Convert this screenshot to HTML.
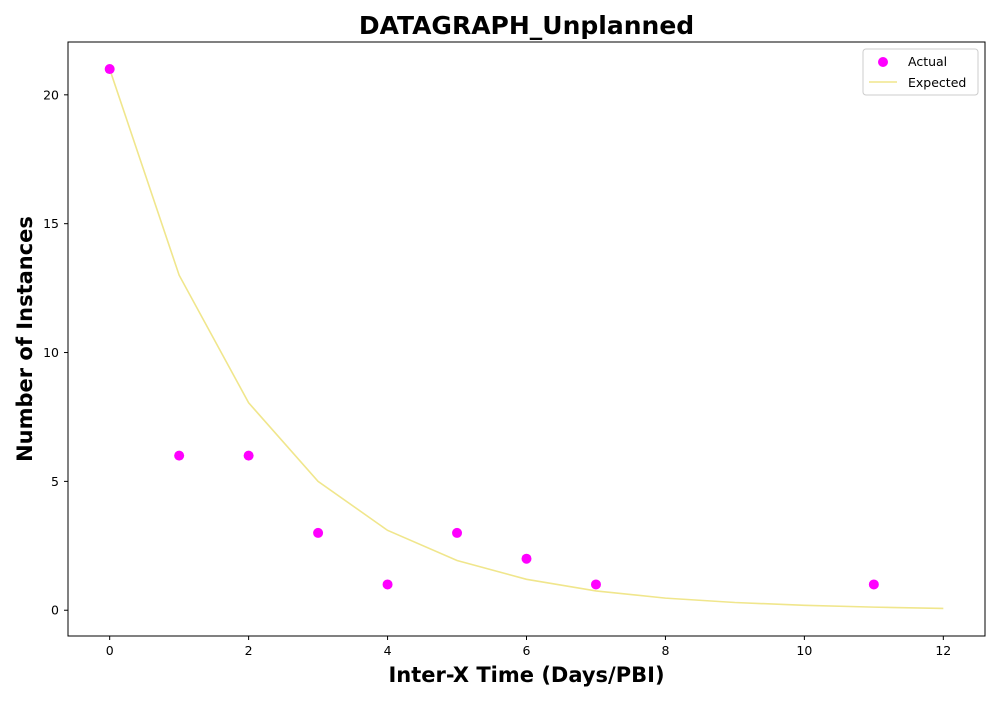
<!DOCTYPE html>
<html><head><meta charset="utf-8"><style>
body{margin:0;background:#fff;font-family:"DejaVu Sans","Liberation Sans",sans-serif;}
</style></head><body>
<svg id="chart" width="1000" height="700" viewBox="0 0 1000 700" xmlns="http://www.w3.org/2000/svg" font-family="DejaVu Sans, Liberation Sans, sans-serif"></svg>
<script>
const xTicks=[0,2,4,6,8,10,12];
const yTicks=[0,5,10,15,20];
const actualX=[0,1,2,3,4,5,6,7,11];
const actualY=[21,6,6,3,1,3,2,1,1];
const expectedX=[0,1,2,3,4,5,6,7,8,9,10,11,12];
const expectedY=[21,13.0,8.05,5.0,3.1,1.93,1.2,0.75,0.47,0.3,0.19,0.12,0.07];

const L=68,R=985,T=42,B=636;
const xMin=-0.6,xMax=12.6,yMin=-1.0,yMax=22.05;
const sx=v=>L+(v-xMin)/(xMax-xMin)*(R-L);
const sy=v=>B-(v-yMin)/(yMax-yMin)*(B-T);
const svg=document.getElementById('chart');
const NS='http://www.w3.org/2000/svg';
function mk(tag,attrs,parent){const e=document.createElementNS(NS,tag);for(const k in attrs)e.setAttribute(k,attrs[k]);(parent||svg).appendChild(e);return e;}

const title=mk('text',{x:(L+R)/2,y:34,'text-anchor':'middle','font-size':25,'font-weight':'bold'});
title.textContent='DATAGRAPH_Unplanned';



const xg=mk('g',{});


xTicks.forEach(t=>{
  mk('line',{x1:sx(t),x2:sx(t),y1:B,y2:B+4,stroke:'#000'},xg);
  const tx=mk('text',{x:sx(t),y:B+19,'text-anchor':'middle','font-size':12.5},xg);
  tx.textContent=t;
  
  
});
const yg=mk('g',{});


yTicks.forEach(t=>{
  mk('line',{x1:L-4,x2:L,y1:sy(t),y2:sy(t),stroke:'#000'},yg);
  const tx=mk('text',{x:L-9,y:sy(t)+4.5,'text-anchor':'end','font-size':12.5},yg);
  tx.textContent=t;
  
  
});
const xt=mk('text',{x:(L+R)/2,y:682,'text-anchor':'middle','font-size':21,'font-weight':'bold'});
xt.textContent='Inter-X Time (Days/PBI)';


const yt=mk('text',{x:32,y:(T+B)/2,'text-anchor':'middle','font-size':21,'font-weight':'bold',transform:`rotate(-90 32 ${(T+B)/2})`});
yt.textContent='Number of Instances';



const line=mk('polyline',{points:expectedX.map((x,i)=>sx(x)+','+sy(expectedY[i])).join(' '),fill:'none',stroke:'#f0e68c','stroke-width':1.6});



actualX.forEach((x,i)=>{
  const c=mk('circle',{cx:sx(x),cy:sy(actualY[i]),r:5,fill:'#ff00ff'});
  
  
});

const frame=mk('rect',{x:L,y:T,width:R-L,height:B-T,fill:'none',stroke:'#000','stroke-width':1});



const lg=mk('g',{});


mk('rect',{x:863,y:49,width:115,height:46,rx:3,fill:'#fff',stroke:'#ccc'},lg);
mk('circle',{cx:883,cy:62,r:5,fill:'#ff00ff'},lg);
const l1=mk('text',{x:908,y:66,'font-size':12.5},lg);l1.textContent='Actual';


mk('line',{x1:869,x2:897,y1:82,y2:82,stroke:'#f0e68c','stroke-width':1.6},lg);
const l2=mk('text',{x:908,y:87,'font-size':12.5},lg);l2.textContent='Expected';


</script>
</body></html>
